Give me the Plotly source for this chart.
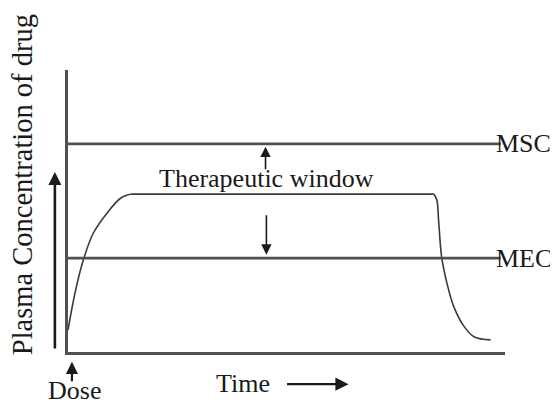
import plotly.graph_objects as go

# ---- data (time units, concentration units) ----
rise_t = [0.0, 0.16, 0.35, 0.58, 0.91, 1.21, 1.45]
rise_c = [0.78, 2.09, 3.26, 4.22, 4.96, 5.46, 5.60]
plateau_t = [1.45, 8.37]
plateau_c = [5.60, 5.60]
fall_t = [8.37, 8.44, 8.48, 8.55, 8.67, 8.83, 9.07, 9.30, 9.67]
fall_c = [5.60, 5.39, 4.68, 3.37, 2.45, 1.60, 0.89, 0.53, 0.43]

msc_level = 7.38
mec_level = 3.33
level_t = [0.0, 9.9]

x_range = [0, 10]
y_range = [0, 10]

FONT = "Liberation Serif"
TXT = "#1a1a1a"
LINE = "#505050"


def px(t):
    return (t - x_range[0]) / (x_range[1] - x_range[0])


def py(c):
    return (c - y_range[0]) / (y_range[1] - y_range[0])


fig = go.Figure()

for tt, cc, shape in [(rise_t, rise_c, "spline"), (plateau_t, plateau_c, "linear"), (fall_t, fall_c, "spline")]:
    fig.add_trace(go.Scatter(x=tt, y=cc, mode="lines",
                             line=dict(color="#3a3a3a", width=1.6, shape=shape),
                             hoverinfo="skip", showlegend=False))

for lvl in [msc_level, mec_level]:
    fig.add_trace(go.Scatter(x=level_t, y=[lvl, lvl], mode="lines",
                             line=dict(color=LINE, width=2.6),
                             hoverinfo="skip", showlegend=False))

ann = []
ann.append(dict(x=px(9.76), y=py(msc_level), text="MSC", xanchor="left", yanchor="middle"))
ann.append(dict(x=px(9.76), y=py(mec_level), text="MEC", xanchor="left", yanchor="middle"))
ann.append(dict(x=px(4.55), y=py(6.17), text="Therapeutic window", xanchor="center", yanchor="middle"))
ann.append(dict(x=px(4.0), y=py(-1.12), text="Time", xanchor="center", yanchor="middle"))
ann.append(dict(x=px(0.16), y=py(-1.36), text="Dose", xanchor="center", yanchor="middle"))
for a in ann:
    a["xref"] = "paper"
    a["yref"] = "paper"
    a["showarrow"] = False
    a["borderpad"] = 0
    a["font"] = dict(family=FONT, size=26, color=TXT)
ann.append(dict(x=-0.105, y=0.592, xref="paper", yref="paper", text="Plasma Concentration of drug",
                textangle=-90, xanchor="center", yanchor="middle", showarrow=False,
                font=dict(family=FONT, size=28.5, color=TXT)))

# arrows: head position (data units), tail offset in pixels
arrows = [
    dict(t=4.52, c=7.28, ax=0, ay=24, w=1.6, s=1.3),     # window up
    dict(t=4.54, c=3.45, ax=0, ay=-41, w=1.6, s=1.3),    # window down
    dict(t=0.09, c=-0.35, ax=0, ay=21, w=2.2, s=1.1),    # dose
    dict(t=6.42, c=-1.14, ax=-63, ay=0, w=2.4, s=1.1),   # time
    dict(t=-0.30, c=6.38, ax=0, ay=178, w=2.6, s=1.0),   # concentration
]
for a in arrows:
    ann.append(dict(x=px(a["t"]), y=py(a["c"]), ax=a["ax"], ay=a["ay"], xref="paper", yref="paper",
                    showarrow=True, arrowhead=2, arrowsize=a["s"], arrowwidth=a["w"],
                    arrowcolor="#1a1a1a", text=""))

fig.update_layout(
    width=550, height=397,
    margin=dict(l=60, r=53, t=62, b=53),
    paper_bgcolor="white", plot_bgcolor="white",
    annotations=ann,
    xaxis=dict(range=x_range, showgrid=False, zeroline=False, showticklabels=False,
               ticks="", showline=True, linecolor=LINE, linewidth=3),
    yaxis=dict(range=y_range, showgrid=False, zeroline=False, showticklabels=False,
               ticks="", showline=True, linecolor=LINE, linewidth=3),
)

fig.write_html("out.html")
